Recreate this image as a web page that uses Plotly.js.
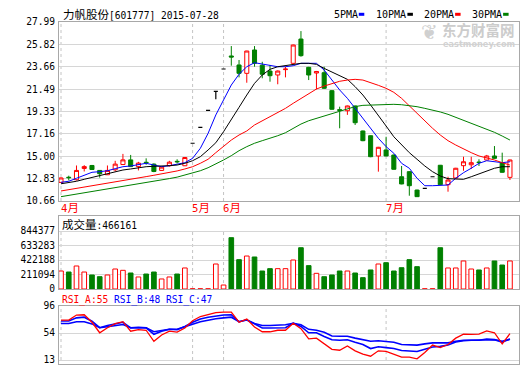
<!DOCTYPE html>
<html><head><meta charset="utf-8">
<script src="https://cdn.plot.ly/plotly-3.0.1.min.js"></script>
<style>html,body{margin:0;padding:0;background:#fff}#chart{width:520px;height:365px}</style>
</head><body><div id="chart"></div>
<script>
const chartTitle = '力帆股份[601777] 2015-07-28';
const monthLabels = ['4月','5月','6月','7月'];
const monthStart = [0, 17, 21, 42];
const priceTicks = [10.66, 12.83, 15.00, 17.16, 19.33, 21.49, 23.66, 25.82, 27.99];
const volTicks = [0, 211094, 422188, 633283, 844377];
const rsiTicks = [13, 54, 96];
const volLabel = '成交量:466161';
const rsiLabels = ['RSI_A:55', 'RSI_B:48', 'RSI_C:47'];
const maNames = ['5PMA', '10PMA', '20PMA', '30PMA'];
const watermark = ['东方财富网', 'eastmoney.com'];

const open  = [12.46,12.96,12.72,13.81,14.10,13.62,13.20,13.68,14.19,14.64,13.99,14.41,14.23,13.62,14.07,14.50,14.07,
  16.25,17.78,19.44,21.27,
  23.44,24.70,23.83,23.02,25.28,23.80,23.24,22.86,23.38,23.99,26.34,23.60,23.05,23.08,21.34,19.50,19.40,19.86,17.44,16.98,15.02,
  15.60,15.11,13.01,13.50,11.72,11.89,13.01,14.12,12.24,12.89,14.08,14.17,14.43,14.63,15.02,14.37,12.95];
const high  = [12.95,13.11,14.10,14.13,14.15,13.65,14.10,14.55,15.22,15.12,14.45,14.79,14.30,13.98,14.55,14.70,14.90,
  16.25,17.78,19.44,21.27,
  23.44,25.66,24.31,25.20,25.66,24.14,23.83,23.30,23.66,25.80,27.11,23.65,23.25,23.66,21.40,19.79,19.90,19.90,17.48,17.00,15.90,
  16.88,15.15,14.05,13.55,11.76,11.89,13.01,14.15,13.01,13.87,14.95,14.95,14.70,15.12,15.98,15.34,14.66];
const low   = [12.40,12.66,12.65,13.52,13.68,12.92,13.18,13.52,14.15,13.95,13.62,14.17,13.45,13.58,14.00,14.30,14.05,
  16.25,17.78,19.44,20.50,
  23.44,23.76,22.63,22.11,23.66,22.54,22.21,21.96,22.63,23.95,24.63,22.37,21.47,21.50,19.50,17.70,19.00,18.02,16.45,14.90,13.50,
  14.98,13.70,12.28,11.17,11.05,11.89,13.01,12.20,11.56,12.85,13.59,13.76,14.05,14.60,14.75,13.40,12.69];
const close = [12.89,12.92,13.62,13.99,13.71,13.30,13.62,14.23,14.64,13.99,14.33,14.37,13.52,13.94,14.42,14.46,14.87,
  16.25,17.78,19.44,21.27,
  23.44,24.60,23.02,25.18,23.99,22.93,22.79,23.24,23.43,25.76,24.73,22.86,23.20,21.57,19.54,19.44,19.86,18.24,16.50,14.95,15.86,
  15.02,13.73,12.31,12.14,11.08,11.89,13.01,12.24,12.69,13.83,14.46,14.37,14.39,15.02,14.79,13.44,14.63];
const volume = [262000,247000,335000,247000,204000,179000,204000,291000,272000,233000,175000,218000,247000,146000,175000,218000,306000,
  3000,3000,3000,364000,
  58000,747000,427000,480000,466000,262000,296000,296000,296000,422000,601000,340000,228000,179000,204000,262000,262000,233000,165000,277000,364000,
  383000,262000,310000,427000,325000,3000,3000,601000,306000,306000,408000,291000,277000,306000,408000,349000,408000];
const ma5  = [12.47,12.57,12.86,13.18,13.44,13.50,13.59,13.79,13.98,14.05,14.17,14.31,14.14,13.98,14.08,14.21,14.37,
  14.79,15.76,17.21,18.99,
  20.44,21.89,22.93,23.66,24.05,23.92,23.73,23.66,23.66,23.76,23.99,23.99,23.99,23.34,22.37,21.41,20.60,19.63,18.67,17.70,16.73,
  15.92,15.28,14.31,13.83,12.86,12.14,12.14,12.14,12.21,12.86,13.40,13.83,14.31,14.56,14.46,14.37,14.46];
const ma10 = [12.33,12.43,12.57,12.76,12.95,13.15,13.34,13.50,13.66,13.76,13.88,13.98,14.02,14.02,14.08,14.14,14.31,
  14.56,14.95,15.60,16.30,
  17.37,18.50,19.73,20.92,22.05,22.86,23.41,23.66,23.76,23.83,23.99,23.99,23.89,23.50,23.12,22.76,22.44,21.73,20.92,19.95,18.99,
  17.92,16.88,16.08,15.34,14.70,14.05,13.50,13.08,12.82,12.76,12.76,13.01,13.27,13.59,13.83,13.98,13.98];
const ma20 = [11.63,11.75,11.88,12.00,12.12,12.25,12.38,12.51,12.63,12.77,12.89,13.02,13.15,13.27,13.42,13.57,13.76,
  13.98,14.31,14.70,15.34,
  15.98,16.56,17.05,17.44,18.02,18.43,18.82,19.21,19.63,20.12,20.60,21.09,21.50,21.79,22.05,22.25,22.37,22.44,22.37,22.15,21.86,
  21.57,21.18,20.60,19.86,19.08,18.34,17.70,17.05,16.50,16.08,15.69,15.34,15.02,14.85,14.63,14.37,14.14];
const ma30 = [11.08,11.20,11.33,11.45,11.57,11.70,11.82,11.95,12.07,12.20,12.32,12.45,12.57,12.70,12.83,12.97,13.18,
  13.34,13.59,13.88,14.24,
  14.63,15.05,15.53,15.92,16.25,16.50,16.73,16.98,17.27,17.70,18.11,18.43,18.67,18.89,19.15,19.37,19.60,19.80,19.92,19.95,19.98,
  20.02,20.02,19.98,19.92,19.79,19.63,19.47,19.28,19.05,18.76,18.50,18.24,17.95,17.63,17.31,16.95,16.56];
const rsiA = [73.8,73.8,81.5,81.9,70.5,54.5,62.2,68.5,71.4,56.9,59.3,58.3,41.5,51.1,56.9,55.4,61.8,
  72.8,79.2,82.5,85.0,
  85.9,85.9,70.5,75.3,63.2,56.0,56.0,58.3,58.3,69.0,60.8,45.3,46.3,37.6,29.3,27.9,34.3,27.0,22.1,18.8,27.0,
  26.0,22.1,17.3,17.3,14.8,24.5,35.7,31.8,36.6,46.3,52.5,52.0,52.5,57.4,54.5,37.6,53.0];
const rsiB = [72.4,72.4,77.2,78.2,72.0,62.2,65.6,68.5,70.5,62.0,62.7,62.0,52.1,56.9,59.8,59.0,64.1,
  70.5,75.3,78.2,80.1,
  81.5,81.9,71.3,74.3,68.0,61.8,61.8,61.8,62.2,69.0,64.1,54.5,54.5,48.8,43.8,43.0,43.8,40.0,36.6,30.4,33.2,
  31.8,30.4,27.4,27.0,26.0,29.3,32.8,33.7,35.7,40.5,42.4,43.0,43.4,43.8,43.8,40.0,45.0];
const rsiC = [68.5,68.5,71.3,71.3,68.0,62.2,63.7,65.6,67.1,62.2,62.2,62.2,56.0,58.3,59.8,59.8,63.2,
  67.5,71.3,73.8,75.7,
  77.2,78.2,71.3,73.8,68.5,65.6,65.6,65.6,66.6,69.0,66.6,59.7,58.3,55.4,49.6,49.2,49.2,46.3,44.0,41.5,42.4,
  41.5,40.0,36.6,35.7,35.7,37.6,39.1,39.1,39.1,41.5,43.0,43.0,43.0,44.9,44.0,41.5,44.5];

const RED = '#ff0000', GREEN = '#008000', BLUE = '#0000ff', BLACK = '#000000';
const maColors = [BLUE, BLACK, RED, GREEN];
const rsiColors = [RED, BLUE, BLUE];
const W = 520, H = 365, L = 59, R = 1, PW = W - L - R;
const PX = x => (x - L) / PW;
const PY = y => 1 - y / H;
const MONO = '"DejaVu Sans Mono", "Noto Sans CJK SC", monospace';
const FS = 9.6;
const cjk = s => s.replace(/([\u3000-\u9fff\uff00-\uffef]+)/g, '<span style="font-size:11.5px">$1</span>');

const days = open.map((_, i) => i);
const isFlat = days.map(i => open[i] === close[i] && high[i] === close[i]);
const isUp = days.map(i => close[i] >= open[i]);
const normalIdx = days.filter(i => !isFlat[i]);
const flatIdx = days.filter(i => isFlat[i]);
const pick = (arr, idx) => idx.map(i => arr[i]);

const traces = [];
traces.push({
  type: 'candlestick', xaxis: 'x', yaxis: 'y', x: normalIdx,
  open: pick(open, normalIdx), high: pick(high, normalIdx), low: pick(low, normalIdx), close: pick(close, normalIdx),
  increasing: {line: {color: RED, width: 1}, fillcolor: '#ffffff'},
  decreasing: {line: {color: GREEN, width: 1}, fillcolor: GREEN},
  whiskerwidth: 0, hoverinfo: 'skip'
});
traces.push({
  type: 'candlestick', xaxis: 'x', yaxis: 'y', x: flatIdx,
  open: pick(open, flatIdx), high: pick(high, flatIdx), low: pick(low, flatIdx), close: pick(close, flatIdx),
  increasing: {line: {color: BLACK, width: 1.2}, fillcolor: BLACK},
  decreasing: {line: {color: BLACK, width: 1.2}, fillcolor: BLACK},
  whiskerwidth: 0, hoverinfo: 'skip'
});
[ma5, ma10, ma20, ma30].forEach((m, k) => traces.push({
  type: 'scatter', mode: 'lines', xaxis: 'x', yaxis: 'y', x: days, y: m,
  line: {color: maColors[k], width: 1}, hoverinfo: 'skip'
}));
traces.push({
  type: 'bar', xaxis: 'x2', yaxis: 'y2', x: days, y: volume, width: 0.6,
  marker: {color: days.map(i => isUp[i] ? '#ffffff' : GREEN),
           line: {color: days.map(i => isUp[i] ? RED : GREEN), width: 1}},
  hoverinfo: 'skip'
});
[rsiC, rsiB, rsiA].forEach((r, k) => traces.push({
  type: 'scatter', mode: 'lines', xaxis: 'x3', yaxis: 'y3', x: days, y: r,
  line: {color: [BLUE, BLUE, RED][k], width: k === 2 ? 1.3 : 1.6}, hoverinfo: 'skip'
}));

const xRange = [-0.26, 59.17];
const GRID = '#d6d6d6', AXL = '#a8a8a8';
const xBase = a => ({domain: [0, 1], range: xRange, anchor: a, showticklabels: false, showgrid: false,
  zeroline: false, showline: true, linecolor: AXL, mirror: true, fixedrange: true, rangeslider: {visible: false}});
const yBase = (dom, rng, tv, tt) => ({domain: dom, range: rng, tickvals: tv, ticktext: tt,
  showgrid: true, gridcolor: GRID, gridwidth: 1, zeroline: false, showline: true, linecolor: AXL, mirror: true,
  ticks: '', tickfont: {family: MONO, size: FS, color: '#000'}, fixedrange: true, ticklabelstandoff: 1,
  ticklabeloverflow: 'allow'});

const volTop = 844377 * (289 - 216) / (289 - 231);
// RSI panel: top border at 305.5px (96), 13 at 360px, bottom border at 364px
const rsiPx = (360 - 305.5) / (rsiTicks[2] - rsiTicks[0]);
const rsiBottom = rsiTicks[0] - (364 - 360) / rsiPx;

const shapes = [];
monthStart.forEach(m => {
  [['y', priceTicks[0], priceTicks[priceTicks.length - 1]], ['y2', 0, volTicks[volTicks.length - 1]], ['y3', rsiTicks[0], rsiTicks[rsiTicks.length - 1]]]
    .forEach(([yr, a, b], k) => shapes.push({type: 'line', xref: ['x', 'x2', 'x3'][k], yref: yr, x0: m, x1: m, y0: a, y1: b,
      line: {color: '#c4c4c4', width: 1, dash: 'dot'}, layer: 'below'}));
});
const legendX = [331.7, 374.3, 422, 470];
const annotations = [];
maNames.forEach((n, k) => {
  annotations.push({xref: 'paper', yref: 'paper', x: PX(legendX[k]), y: PY(14.5), xanchor: 'left', yanchor: 'middle',
    text: n, showarrow: false, font: {family: MONO, size: 10, color: '#000'}});
  const mx = legendX[k] + n.length * 6.02 + 3;
  shapes.push({type: 'rect', xref: 'paper', yref: 'paper', x0: PX(mx), x1: PX(mx + 5.5), y0: PY(15.8), y1: PY(12.8),
    fillcolor: maColors[k], line: {width: 0}});
});
annotations.push({xref: 'paper', yref: 'paper', x: PX(61), y: PY(14.5), xanchor: 'left', yanchor: 'middle',
  text: cjk(chartTitle), showarrow: false, font: {family: MONO, size: FS, color: '#000'}});
monthLabels.forEach((t, k) => annotations.push({xref: 'x', yref: 'paper', x: monthStart[k], xshift: -2.5, y: PY(207.5),
  xanchor: 'left', yanchor: 'middle', text: cjk(t), showarrow: false, font: {family: MONO, size: FS + 1, color: RED}}));
annotations.push({xref: 'paper', yref: 'paper', x: PX(59.5), y: PY(224.5), xanchor: 'left', yanchor: 'middle',
  text: cjk(volLabel), showarrow: false, font: {family: MONO, size: FS, color: '#000'}});
annotations.push({xref: 'paper', yref: 'paper', x: PX(59.5), y: PY(299.5), xanchor: 'left', yanchor: 'middle',
  text: rsiLabels.map((t, k) => '<span style="color:' + rsiColors[k] + '">' + t + '</span>').join(' '),
  showarrow: false, font: {family: MONO, size: FS, color: '#000'}});
annotations.push({xref: 'paper', yref: 'paper', x: PX(441), y: PY(29), xanchor: 'left', yanchor: 'middle', borderpad: 0,
  text: '<b>' + watermark[0] + '</b>', showarrow: false, font: {family: '"Noto Sans CJK SC"', size: 14.5, color: '#cccccc'}});
annotations.push({xref: 'paper', yref: 'paper', x: PX(442), y: PY(44), xanchor: 'left', yanchor: 'middle', borderpad: 0,
  text: '<b>' + watermark[1] + '</b>', showarrow: false, font: {family: '"DejaVu Sans"', size: 8.2, color: '#d2d2d2'}});
annotations.push({xref: 'paper', yref: 'paper', x: PX(429), y: PY(32), xanchor: 'center', yanchor: 'middle', borderpad: 0,
  text: '<b>❦</b>', showarrow: false, font: {family: '"DejaVu Sans"', size: 20, color: '#d0d0d0'}});

const layout = {
  width: W, height: H, margin: {l: L, r: R, t: 0, b: 0}, paper_bgcolor: '#fff', plot_bgcolor: '#fff',
  showlegend: false, hovermode: false, boxgap: 0.25, boxgroupgap: 0.3, bargap: 0,
  xaxis: xBase('y'), xaxis2: xBase('y2'), xaxis3: xBase('y3'),
  yaxis: yBase([PY(201), PY(22)], [priceTicks[0], priceTicks[priceTicks.length - 1]], priceTicks, priceTicks.map(v => v.toFixed(2))),
  yaxis2: yBase([PY(289), PY(216)], [0, volTop], volTicks, volTicks.map(String)),
  yaxis3: yBase([PY(364), PY(305.5)], [rsiBottom, rsiTicks[2]], rsiTicks, rsiTicks.map(String)),
  shapes: shapes, annotations: annotations
};
Plotly.newPlot('chart', traces, layout, {staticPlot: true, displayModeBar: false});
</script></body></html>
